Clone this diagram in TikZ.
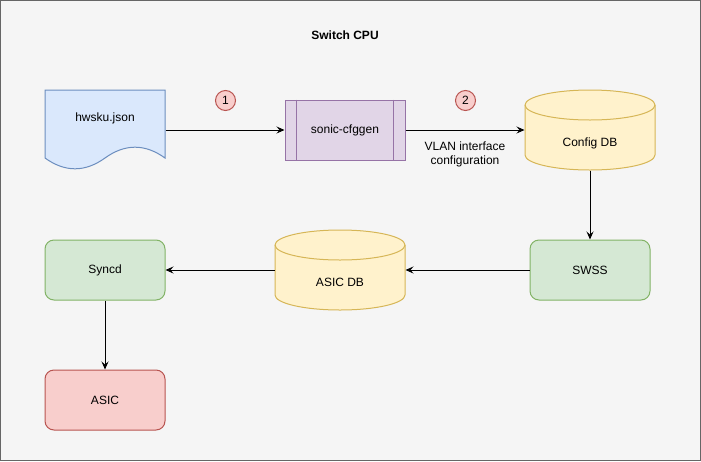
\documentclass[tikz,border=0pt]{standalone}
\usepackage{fontspec}
\setmainfont{Liberation Sans}
\usetikzlibrary{arrows.meta}
\definecolor{bgfill}{HTML}{F5F5F5}
\definecolor{bgline}{HTML}{666666}
\definecolor{bluefill}{HTML}{DAE8FC}
\definecolor{blueline}{HTML}{6C8EBF}
\definecolor{purpfill}{HTML}{E1D5E7}
\definecolor{purpline}{HTML}{9673A6}
\definecolor{yelfill}{HTML}{FFF2CC}
\definecolor{yelline}{HTML}{D6B656}
\definecolor{grnfill}{HTML}{D5E8D4}
\definecolor{grnline}{HTML}{82B366}
\definecolor{redfill}{HTML}{F8CECC}
\definecolor{redline}{HTML}{B85450}

\begin{document}
\begin{tikzpicture}[
x=1pt, y=-1pt, line width=1pt,
font=\fontsize{12}{14}\selectfont,
boxnode/.style={rectangle, rounded corners=9pt, minimum width=120pt, minimum height=60pt, inner sep=0pt},
procnode/.style={rectangle, draw=purpline, fill=purpfill, minimum width=120pt, minimum height=60pt, inner sep=0pt},
docnode/.style={rectangle, minimum width=120pt, minimum height=80pt, inner sep=0pt},
dbnode/.style={rectangle, minimum width=130pt, minimum height=80pt, inner sep=0pt},
numnode/.style={circle, draw=redline, fill=redfill, minimum size=20pt, inner sep=0pt},
flow/.style={-{Stealth[length=8pt,width=7pt,inset=3pt]}, black}
]
    \useasboundingbox (0,0) rectangle (701,461);
    \draw [bgline, fill=bgfill] (0.5,0.5) rectangle (700.5,460.5);
    \node [font=\fontsize{12}{14}\selectfont\bfseries] (title) at (345,35) {Switch CPU};

    % document shape
    \filldraw [draw=blueline, fill=bluefill] (45,90) -- (165,90) -- (165,158)
        .. controls (145,143.6) and (125,143.6) .. (105,158)
        .. controls (85,172.4) and (65,172.4) .. (45,158) -- cycle;
    \node [docnode, label={[yshift=12pt]center:hwsku.json}] (hwsku) at (105,130) {};

    \node [procnode] (cfggen) at (345,130) {sonic-cfggen};
    \draw [purpline] ([xshift=12pt]cfggen.north west) -- ([xshift=12pt]cfggen.south west);
    \draw [purpline] ([xshift=-12pt]cfggen.north east) -- ([xshift=-12pt]cfggen.south east);

    % cylinders
    \filldraw [draw=yelline, fill=yelfill] (525,105) -- (525,155)
        arc [start angle=180, end angle=0, x radius=65, y radius=15] -- (655,105)
        arc [start angle=0, end angle=-180, x radius=65, y radius=15] -- cycle;
    \draw [yelline] (525,105) arc [start angle=180, end angle=0, x radius=65, y radius=15];
    \node [dbnode, label={[yshift=-13pt]center:Config DB}] (configdb) at (590,130) {};

    \filldraw [draw=yelline, fill=yelfill] (275,245) -- (275,295)
        arc [start angle=180, end angle=0, x radius=65, y radius=15] -- (405,245)
        arc [start angle=0, end angle=-180, x radius=65, y radius=15] -- cycle;
    \draw [yelline] (275,245) arc [start angle=180, end angle=0, x radius=65, y radius=15];
    \node [dbnode, label={[yshift=-12.5pt]center:ASIC DB}] (asicdb) at (340,270) {};

    \node [boxnode, draw=grnline, fill=grnfill] (swss) at (590,270) {SWSS};
    \node [boxnode, draw=grnline, fill=grnfill] (syncd) at (105,270) {Syncd};
    \node [boxnode, draw=redline, fill=redfill] (asic) at (105,400) {ASIC};

    \node [numnode] (n1) at (225.5,100.5) {1};
    \node [numnode] (n2) at (465.5,100.5) {2};

    \draw [flow] (hwsku) -- (cfggen);
    \draw [flow] (cfggen) -- node [align=center, yshift=-24.5pt] (vlan) {VLAN interface\\configuration} (configdb);
    \draw [flow] (configdb) -- (swss);
    \draw [flow] (swss) -- (asicdb);
    \draw [flow] (asicdb) -- (syncd);
    \draw [flow] (syncd) -- (asic);
\end{tikzpicture}
\end{document}
